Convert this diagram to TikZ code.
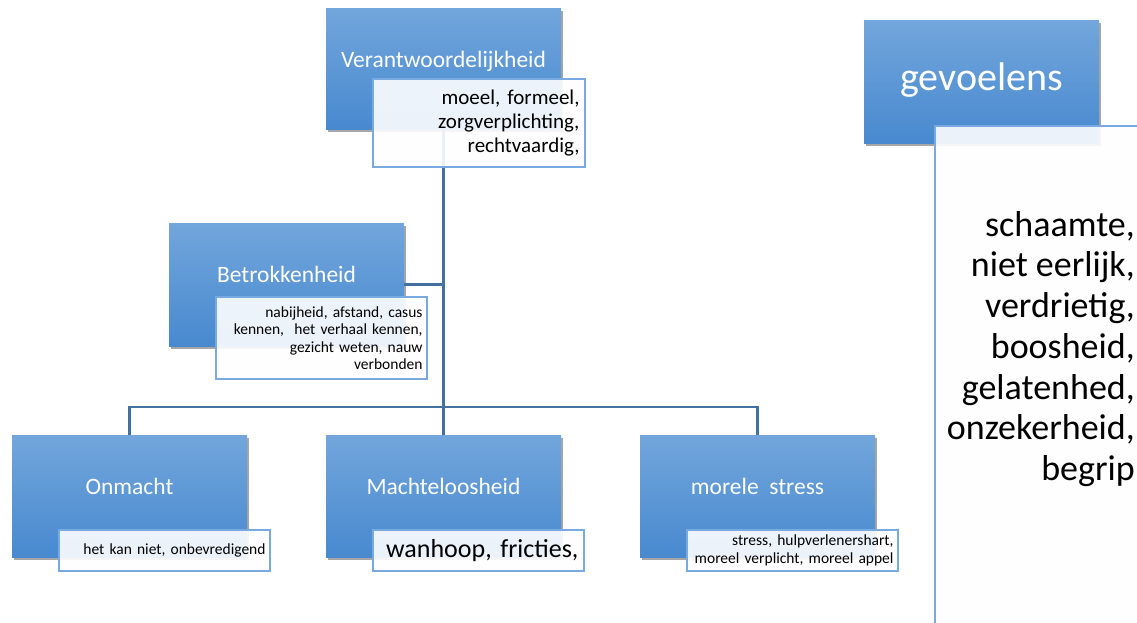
\documentclass[tikz,border=0pt]{standalone}
\usepackage{fontspec}
\setmainfont{Carlito}
\usetikzlibrary{shadows}
\definecolor{boxtop}{RGB}{114,166,220}
\definecolor{boxbot}{RGB}{72,137,207}
\definecolor{subfill}{RGB}{254,254,255}
\definecolor{subline}{RGB}{120,170,225}
\definecolor{conn}{RGB}{67,114,160}
\tikzset{
  rolebox/.style={rectangle, anchor=north west, inner sep=0pt, outer sep=0pt,
    top color=boxtop, bottom color=boxbot, draw=none,
    drop shadow={shadow xshift=2pt, shadow yshift=-3pt, opacity=0.35, fill=black}},
  roletext/.style={text=white, font=\fontsize{23.5}{28}\selectfont, inner sep=0pt, anchor=base},
  notebox/.style={rectangle, anchor=north west, inner xsep=4pt, inner ysep=0pt, outer sep=0pt,
    fill=subfill, fill opacity=0.9, text opacity=1, draw=subline, line width=1.2pt, align=right},
  smallnote/.style={font=\fontsize{15.5}{17.5}\selectfont},
  connector/.style={draw=conn, line width=2.6pt}
}
\begin{document}
\begin{tikzpicture}[x=1pt, y=-1pt]
\useasboundingbox (0,0) rectangle (1137,622);
\clip (0,0) rectangle (1137,622);

% role boxes
\node[rolebox, minimum width=235pt, minimum height=121pt] (v) at (326,8) {};
\node[rolebox, minimum width=235pt, minimum height=123pt] (b) at (169,223) {};
\node[rolebox, minimum width=235pt, minimum height=122pt] (o) at (12,435) {};
\node[rolebox, minimum width=235pt, minimum height=122pt] (m) at (326,435) {};
\node[rolebox, minimum width=235pt, minimum height=122pt] (s) at (640,435) {};
\node[rolebox, minimum width=235pt, minimum height=123pt] (g) at (864,20) {};

% connectors
\coordinate (bar) at (443.5,407);
\draw[connector] (v.south) -- (m.north);
\draw[connector] (b.east) -- (b.east -| v.south);
\draw[connector] (o.north) -- (o.north |- bar) -- (s.north |- bar) -- (s.north);

% titles
\node[roletext] (vt) at (443.5,67) {Verantwoordelijkheid};
\node[roletext] (bt) at (286.5,282) {Betrokkenheid};
\node[roletext] (ot) at (129.5,494) {Onmacht};
\node[roletext] (mt) at (443.5,494) {Machteloosheid};
\node[roletext] (st) at (757.5,494) {morele\ \ stress};
\node[roletext, font=\fontsize{40}{48}\selectfont] (gt) at (981.5,90) {gevoelens};

% note boxes
\node[notebox, minimum width=212pt, minimum height=88pt, text width=201pt,
  font=\fontsize{21}{23.8}\selectfont] (vs) at (373,79)
  {moeel, formeel,\\zorgverplichting,\\rechtvaardig,};
\node[notebox, smallnote, minimum width=211pt, minimum height=82pt, text width=202pt] (bs) at (216,297)
  {nabijheid, afstand, casus\\kennen,\ \ het verhaal kennen,\\gezicht weten, nauw\\verbonden};
\node[notebox, smallnote, minimum width=211pt, minimum height=41pt, text width=202pt] (os) at (59,530)
  {het kan niet, onbevredigend};
\node[notebox, minimum width=211pt, minimum height=41pt, text width=200pt,
  font=\fontsize{26}{30}\selectfont] (ms) at (373,530)
  {wanhoop, fricties,};
\node[notebox, smallnote, minimum width=211pt, minimum height=41pt, text width=202pt] (ss) at (687,530)
  {stress, hulpverlenershart,\\moreel verplicht, moreel appel};
\node[notebox, minimum width=260pt, minimum height=540pt] (gs) at (935,126) {};
\node[anchor=north east, inner sep=0pt, align=right,
  font=\fontsize{36}{40.7}\selectfont] (gl) at (1135,211)
  {schaamte,\\niet eerlijk,\\verdrietig,\\boosheid,\\gelatenhed,\\onzekerheid,\\begrip};
\end{tikzpicture}
\end{document}
